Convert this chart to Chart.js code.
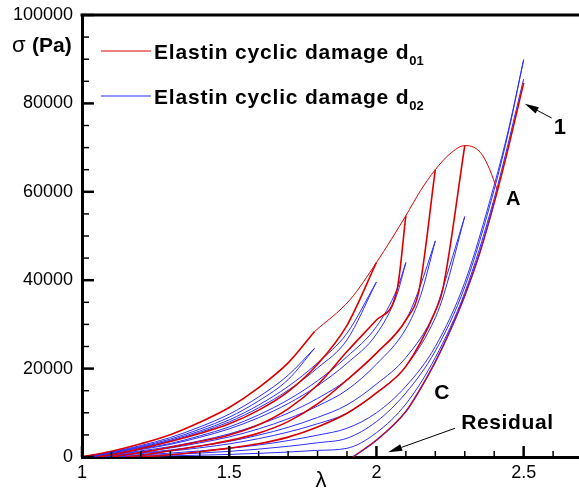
<!DOCTYPE html>
<html>
<head>
<meta charset="utf-8">
<script src="https://cdn.jsdelivr.net/npm/chart.js@4.4.1/dist/chart.umd.min.js"></script>
<style>
  html, body { margin: 0; padding: 0; background: #fff; overflow: hidden; }
  #wrap { width: 579px; height: 493px; }
</style>
</head>
<body>
<div id="wrap"><canvas id="chart" width="579" height="493"></canvas></div>
<script>
// axis ticks
const lambdaTicks = [1, 1.5, 2, 2.5];
const sigmaTicks = [0, 20000, 40000, 60000, 80000, 100000];

// d01 (red): damage envelope and loading paths, [lambda, sigma]
const redEnvelope = [[1.79, 28400], [1.91, 35560], [2.0, 44000], [2.1, 54600], [2.15, 60300], [2.2, 65000], [2.25, 68600], [2.3, 70440], [2.33, 70100], [2.36, 68300], [2.385, 65000], [2.41, 60480]];
const redCycle1 = [[1.0, 0], [1.1, 1300], [1.2, 3000], [1.3, 5050], [1.4, 7850], [1.5, 11200], [1.6, 15700], [1.7, 21300], [1.79, 28400]];
const redCycle2 = [[1.05, 0], [1.1, 500], [1.2, 1900], [1.3, 3500], [1.4, 5300], [1.5, 7500], [1.6, 10600], [1.7, 14800], [1.8, 21000], [1.9, 29800], [2.0, 44000]];
const redCycle3 = [[1.1, 0], [1.2, 1000], [1.3, 2200], [1.4, 3500], [1.5, 5000], [1.6, 7300], [1.7, 10900], [1.8, 16300], [1.9, 23850], [2.0, 31000], [2.07, 37800], [2.1, 54600]];
const redCycle4 = [[1.15, 0], [1.2, 400], [1.3, 1400], [1.4, 2500], [1.5, 3700], [1.6, 5400], [1.7, 8000], [1.8, 12000], [1.9, 17440], [2.0, 23500], [2.1, 31000], [2.145, 37800], [2.2, 65000]];
const redCycle5 = [[1.2, 0], [1.3, 500], [1.4, 1200], [1.5, 2000], [1.6, 3000], [1.7, 4500], [1.8, 6800], [1.9, 9900], [2.0, 14500], [2.1, 20500], [2.2, 33000], [2.225, 37800], [2.3, 70440]];
const redFinal = [[1.92, 0], [2.0, 3800], [2.1, 10300], [2.15, 15500], [2.2, 21500], [2.25, 28500], [2.3, 36500], [2.35, 46000], [2.4, 57500], [2.45, 70500], [2.5, 84640]];

// d02 (blue): loading paths
const blueCycle1a = [[1, 0], [1.1, 1150], [1.2, 2600], [1.3, 4400], [1.4, 6800], [1.5, 9700], [1.6, 13600], [1.7, 18500], [1.79, 24600]];
const blueCycle1b = [[1, 0], [1.1, 1050], [1.2, 2400], [1.3, 4050], [1.4, 6300], [1.5, 9000], [1.6, 12700], [1.7, 17500], [1.79, 24600]];
const blueCycle2a = [[1, 0], [1.1, 980], [1.2, 2240], [1.3, 3780], [1.4, 5880], [1.5, 8400], [1.6, 11760], [1.7, 15960], [1.8, 21280], [1.9, 28000], [2.0, 39600]];
const blueCycle2b = [[1, 0], [1.1, 930], [1.2, 2120], [1.3, 3580], [1.4, 5570], [1.5, 7950], [1.6, 11130], [1.7, 15100], [1.8, 20140], [1.9, 26500], [2.0, 39600]];
const blueCycle3a = [[1, 0], [1.1, 795], [1.2, 1820], [1.3, 3060], [1.4, 4770], [1.5, 6810], [1.6, 9530], [1.7, 12940], [1.8, 17250], [1.9, 22700], [2.0, 29500], [2.07, 38000], [2.1, 44000]];
const blueCycle3b = [[1, 0], [1.1, 740], [1.2, 1700], [1.3, 2860], [1.4, 4450], [1.5, 6360], [1.6, 8900], [1.7, 12080], [1.8, 16110], [1.9, 21200], [2.0, 27800], [2.07, 36800], [2.1, 44000]];
const blueCycle4a = [[1, 0], [1.1, 610], [1.2, 1400], [1.3, 2350], [1.4, 3660], [1.5, 5230], [1.6, 7320], [1.7, 9940], [1.8, 13250], [1.9, 17440], [2.0, 23500], [2.1, 31000], [2.145, 38000], [2.2, 48900]];
const blueCycle4b = [[1, 0], [1.1, 530], [1.2, 1210], [1.3, 2050], [1.4, 3190], [1.5, 4550], [1.6, 6370], [1.7, 8650], [1.8, 11530], [1.9, 15170], [2.0, 21000], [2.1, 29000], [2.15, 36500], [2.2, 48900]];
const blueCycle5a = [[1, 0], [1.1, 410], [1.2, 940], [1.3, 1590], [1.4, 2470], [1.5, 3530], [1.6, 4950], [1.7, 6710], [1.8, 8950], [1.9, 11780], [2.0, 16500], [2.1, 22500], [2.2, 33000], [2.22, 37000], [2.3, 54400]];
const blueCycle5b = [[1, 0], [1.1, 350], [1.2, 790], [1.3, 1340], [1.4, 2080], [1.5, 2970], [1.6, 4160], [1.7, 5640], [1.8, 7520], [1.9, 9900], [2.0, 14500], [2.1, 20500], [2.2, 31500], [2.23, 37000], [2.3, 54400]];
const blueCycle6a = [[1, 0], [1.1, 230], [1.2, 520], [1.3, 880], [1.4, 1370], [1.5, 1950], [1.6, 2730], [1.7, 3710], [1.8, 4940], [1.9, 6500], [2.0, 10000], [2.1, 16000], [2.2, 25000], [2.3, 39500], [2.4, 61500], [2.45, 74500], [2.5, 89900]];
const blueCycle6b = [[1, 0], [1.1, 150], [1.2, 340], [1.3, 570], [1.4, 890], [1.5, 1270], [1.6, 1780], [1.7, 2420], [1.8, 3220], [1.9, 4240], [2.0, 8000], [2.1, 14500], [2.2, 24000], [2.3, 38500], [2.4, 60500], [2.45, 74000], [2.5, 89900]];
const blueCycle7 = [[1, 0], [1.1, 70], [1.2, 160], [1.3, 270], [1.4, 410], [1.5, 590], [1.6, 830], [1.7, 1120], [1.8, 1500], [1.9, 1970], [2.0, 5500], [2.1, 12000], [2.2, 22500], [2.3, 37200], [2.4, 58500], [2.5, 85500]];
const blueResidual = [[1.92, 0], [2.0, 3800], [2.1, 10300], [2.15, 15500], [2.2, 21500], [2.25, 28500], [2.3, 36500], [2.35, 46000], [2.4, 57500]];

const RED = "rgb(218, 0, 0)";
const BLUE = "rgb(45, 45, 255)";
const FONT = "'Liberation Sans', Arial, sans-serif";

const redCurves = [redCycle1, redCycle2, redCycle3, redCycle4, redCycle5, redFinal];
const blueCurves = [blueCycle1a, blueCycle1b, blueCycle2a, blueCycle2b, blueCycle3a, blueCycle3b,
  blueCycle4a, blueCycle4b, blueCycle5a, blueCycle5b, blueCycle6a, blueCycle6b, blueCycle7];

const toPoints = (pairs) => pairs.map(([x, y]) => ({ x, y }));

const datasets = [
  // residual path: blue drawn over red so it reads purple as in the original
  { data: toPoints(blueResidual), borderColor: "rgba(45, 45, 255, 0.75)", borderWidth: 1, order: -1 },
  { data: toPoints(redEnvelope), borderColor: RED, borderWidth: 1 },
  ...redCurves.map((c) => ({ data: toPoints(c), borderColor: RED, borderWidth: 1.6 })),
  ...blueCurves.map((c) => ({ data: toPoints(c), borderColor: BLUE, borderWidth: 1 })),
].map((d) => ({ ...d, pointRadius: 0, fill: false, cubicInterpolationMode: "monotone" }));

// legend entries and text annotations (positions in data units)
const legendItems = [
  { color: RED, label: "Elastin cyclic damage d", sub: "01" },
  { color: BLUE, label: "Elastin cyclic damage d", sub: "02" },
];
const labels = [
  { text: "1", x: 2.623, y: 74500, size: 22 },
  { text: "A", x: 2.465, y: 58200, size: 20 },
  { text: "C", x: 2.222, y: 14400, size: 21 },
  { text: "Residual", x: 2.445, y: 7600, size: 21 },
];
const arrows = [
  { from: [2.595, 76700], to: [2.504, 79900] },
  { from: [2.267, 6500], to: [2.04, 1100] },
];

const framePlugin = {
  id: "frame",
  afterDraw(chart) {
    const { ctx, chartArea: a, scales } = chart;
    const xs = scales.x, ys = scales.y;
    ctx.save();
    ctx.strokeStyle = "#000";

    // top frame line
    ctx.lineWidth = 3;
    ctx.beginPath();
    ctx.moveTo(a.left - 1.5, a.top);
    ctx.lineTo(a.right, a.top);
    ctx.stroke();

    // inward ticks
    for (let v = 0; v <= 100000; v += 5000) {
      const y = ys.getPixelForValue(v);
      const major = sigmaTicks.includes(v);
      ctx.lineWidth = major ? 2.5 : 1.5;
      ctx.beginPath();
      ctx.moveTo(a.left, y);
      ctx.lineTo(a.left + (major ? 12 : 7), y);
      ctx.stroke();
    }
    for (let i = 10; i <= 26; i++) {
      const v = i / 10;
      const x = xs.getPixelForValue(v);
      const major = lambdaTicks.includes(v);
      ctx.lineWidth = major ? 2.5 : 1.5;
      ctx.beginPath();
      ctx.moveTo(x, a.bottom);
      ctx.lineTo(x, a.bottom - (major ? 11 : 6));
      ctx.stroke();
    }

    // axis titles
    ctx.fillStyle = "#000";
    ctx.textBaseline = "middle";
    ctx.textAlign = "left";
    ctx.font = `22px ${FONT}`;
    ctx.fillText("σ", 12, 46);
    ctx.font = `bold 21px ${FONT}`;
    ctx.fillText("(Pa)", 32, 46);
    ctx.font = `22px ${FONT}`;
    ctx.textAlign = "center";
    ctx.fillText("λ", 321, 481);

    // legend
    legendItems.forEach((item, i) => {
      const y = 51 + i * 45;
      ctx.strokeStyle = item.color;
      ctx.lineWidth = 1.2;
      ctx.beginPath();
      ctx.moveTo(101, y);
      ctx.lineTo(151, y);
      ctx.stroke();
      ctx.textAlign = "left";
      ctx.textBaseline = "alphabetic";
      ctx.letterSpacing = "0.8px";
      ctx.font = `bold 21px ${FONT}`;
      ctx.fillText(item.label, 154, y + 8);
      const w = ctx.measureText(item.label).width;
      ctx.font = `bold 13px ${FONT}`;
      ctx.letterSpacing = "0px";
      ctx.fillText(item.sub, 154 + w, y + 14);
    });

    // annotations
    ctx.textAlign = "center";
    ctx.textBaseline = "middle";
    labels.forEach((l) => {
      ctx.font = `bold ${l.size}px ${FONT}`;
      ctx.letterSpacing = l.text.length > 1 ? "0.6px" : "0px";
      ctx.fillText(l.text, xs.getPixelForValue(l.x), ys.getPixelForValue(l.y));
    });
    ctx.letterSpacing = "0px";

    arrows.forEach((ar) => {
      const x0 = xs.getPixelForValue(ar.from[0]), y0 = ys.getPixelForValue(ar.from[1]);
      const x1 = xs.getPixelForValue(ar.to[0]), y1 = ys.getPixelForValue(ar.to[1]);
      const ang = Math.atan2(y1 - y0, x1 - x0);
      const len = 14, half = 3.5;
      const bx = x1 - len * Math.cos(ang), by = y1 - len * Math.sin(ang);
      ctx.strokeStyle = "#000";
      ctx.lineWidth = 1;
      ctx.beginPath();
      ctx.moveTo(x0, y0);
      ctx.lineTo(bx, by);
      ctx.stroke();
      ctx.fillStyle = "#000";
      ctx.beginPath();
      ctx.moveTo(x1, y1);
      ctx.lineTo(bx + half * Math.sin(ang), by - half * Math.cos(ang));
      ctx.lineTo(bx - half * Math.sin(ang), by + half * Math.cos(ang));
      ctx.closePath();
      ctx.fill();
    });
    ctx.restore();
  },
};

new Chart(document.getElementById("chart").getContext("2d"), {
  type: "line",
  data: { datasets },
  options: {
    responsive: false,
    animation: false,
    devicePixelRatio: 1,
    layout: { padding: { top: 15, right: 0, left: 0, bottom: 0 } },
    plugins: { legend: { display: false }, tooltip: { enabled: false } },
    scales: {
      x: {
        type: "linear",
        min: 1,
        max: 2.688,
        afterFit: (scale) => { scale.height = 36; },
        afterBuildTicks: (scale) => { scale.ticks = lambdaTicks.map((value) => ({ value })); },
        grid: { display: false },
        border: { display: true, color: "#000", width: 3 },
        ticks: {
          color: "#000",
          font: { family: FONT, size: 18 },
          padding: -3,
          maxRotation: 0,
          callback: (v) => String(v),
        },
      },
      y: {
        type: "linear",
        min: 0,
        max: 100000,
        afterFit: (scale) => { scale.width = 82; },
        afterBuildTicks: (scale) => { scale.ticks = sigmaTicks.map((value) => ({ value })); },
        grid: { display: false },
        border: { display: true, color: "#000", width: 3 },
        ticks: {
          color: "#000",
          font: { family: FONT, size: 18 },
          padding: 1,
          callback: (v) => String(v),
        },
      },
    },
  },
  plugins: [framePlugin],
});
</script>
</body>
</html>
